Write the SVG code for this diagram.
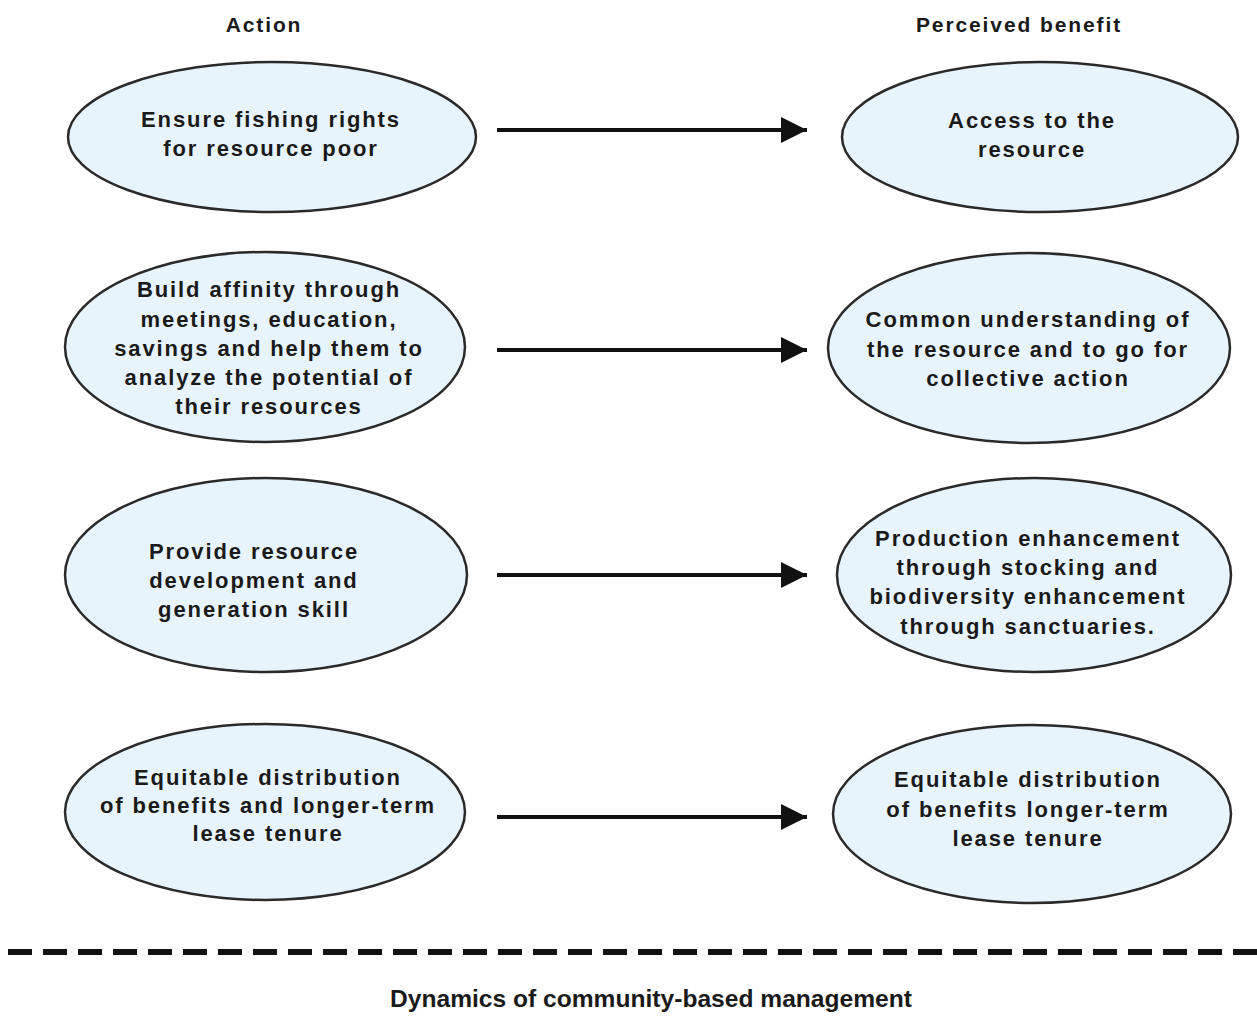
<svg xmlns="http://www.w3.org/2000/svg" width="1257" height="1019" viewBox="0 0 1257 1019">
<style>
.bg{fill:#ffffff}
.node ellipse{fill:#e8f4fc;stroke:#2a2a2a;stroke-width:2.5}
.t{font-family:"Liberation Sans",Arial,sans-serif;font-weight:bold;font-size:22px;letter-spacing:1.9px;fill:#1a1a1a;text-anchor:middle}
.h{font-family:"Liberation Sans",Arial,sans-serif;font-weight:bold;font-size:21px;letter-spacing:1.9px;fill:#1a1a1a;text-anchor:middle}
.cap{font-family:"Liberation Sans",Arial,sans-serif;font-weight:bold;font-size:24px;fill:#1a1a1a;text-anchor:middle}
.conn line{stroke:#111;stroke-width:4}
</style>
<defs>
<marker id="arr" viewBox="0 0 10 10" refX="10" refY="5" markerWidth="7" markerHeight="6.5" markerUnits="strokeWidth" orient="auto">
<path d="M0,0 L10,5 L0,10 z" fill="#111"/>
</marker>
</defs>
<rect class="bg" x="0" y="0" width="1257" height="1019"/>

<text class="h" x="264" y="32">Action</text>
<text class="h" x="1019" y="32">Perceived benefit</text>

<g id="a1" class="node">
<ellipse cx="272" cy="137" rx="204" ry="75"/>
<text class="t" x="271" y="127">Ensure fishing rights</text>
<text class="t" x="271" y="156">for resource poor</text>
</g>
<g id="b1" class="node">
<ellipse cx="1040" cy="137" rx="198" ry="75"/>
<text class="t" x="1032" y="128">Access to the</text>
<text class="t" x="1032" y="157">resource</text>
</g>

<g id="a2" class="node">
<ellipse cx="265" cy="347" rx="200" ry="95"/>
<text class="t" x="269" y="297">Build affinity through</text>
<text class="t" x="269" y="327">meetings, education,</text>
<text class="t" x="269" y="356">savings and help them to</text>
<text class="t" x="269" y="385">analyze the potential of</text>
<text class="t" x="269" y="414">their resources</text>
</g>
<g id="b2" class="node">
<ellipse cx="1029" cy="348" rx="201" ry="95"/>
<text class="t" x="1028" y="327">Common understanding of</text>
<text class="t" x="1028" y="357">the resource and to go for</text>
<text class="t" x="1028" y="386">collective action</text>
</g>

<g id="a3" class="node">
<ellipse cx="266" cy="575" rx="201" ry="97"/>
<text class="t" x="254" y="559">Provide resource</text>
<text class="t" x="254" y="588">development and</text>
<text class="t" x="254" y="617">generation skill</text>
</g>
<g id="b3" class="node">
<ellipse cx="1034" cy="575" rx="197" ry="97"/>
<text class="t" x="1028" y="546">Production enhancement</text>
<text class="t" x="1028" y="575">through stocking and</text>
<text class="t" x="1028" y="604">biodiversity enhancement</text>
<text class="t" x="1028" y="634">through sanctuaries.</text>
</g>

<g id="a4" class="node">
<ellipse cx="265" cy="812" rx="200" ry="88"/>
<text class="t" x="268" y="785">Equitable distribution</text>
<text class="t" x="268" y="813">of benefits and longer-term</text>
<text class="t" x="268" y="841">lease tenure</text>
</g>
<g id="b4" class="node">
<ellipse cx="1032" cy="814" rx="199" ry="89"/>
<text class="t" x="1028" y="787">Equitable distribution</text>
<text class="t" x="1028" y="817">of benefits longer-term</text>
<text class="t" x="1028" y="846">lease tenure</text>
</g>

<g id="connectors" class="conn">
<line x1="497" y1="130" x2="807" y2="130" marker-end="url(#arr)"/>
<line x1="497" y1="350" x2="807" y2="350" marker-end="url(#arr)"/>
<line x1="497" y1="575" x2="807" y2="575" marker-end="url(#arr)"/>
<line x1="497" y1="817" x2="807" y2="817" marker-end="url(#arr)"/>
</g>

<line x1="8" y1="952" x2="1257" y2="952" stroke="#111" stroke-width="6" stroke-dasharray="24 11"/>
<text class="cap" x="651" y="1007" textLength="522" lengthAdjust="spacingAndGlyphs">Dynamics of community-based management</text>
</svg>
